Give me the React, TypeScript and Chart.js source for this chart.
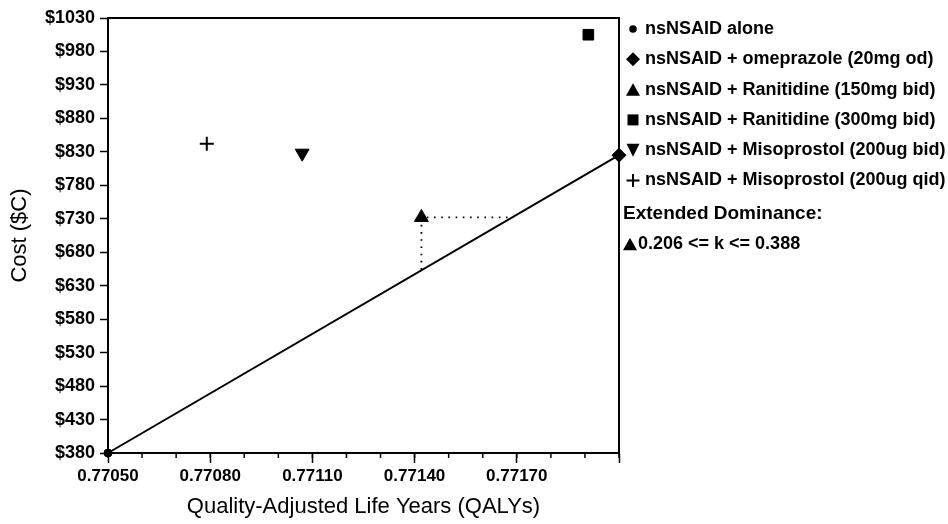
import React, { useEffect, useRef } from 'react';
import { Chart, registerables } from 'chart.js';

Chart.register(...registerables);

// ---- data ----
const treatments = [
  'nsNSAID alone',
  'nsNSAID + omeprazole (20mg od)',
  'nsNSAID + Ranitidine (150mg bid)',
  'nsNSAID + Ranitidine (300mg bid)',
  'nsNSAID + Misoprostol (200ug bid)',
  'nsNSAID + Misoprostol (200ug qid)',
];
const qalys = [0.7705, 0.772, 0.77142, 0.77191, 0.77107, 0.77079];
const costs = [380, 825, 732, 1005, 828, 842];
const frontierIdx = [0, 1];
const dominanceQalys = [0.77142, 0.77142, 0.77168];
const dominanceCosts = [654, 732, 732];
const xTickLabels = ['0.77050', '0.77080', '0.77110', '0.77140', '0.77170', ''];
const xMin = 0.7705;
const xMax = 0.772;
const xMinorStep = 0.0001;
const yMin = 380;
const yMax = 1030;
const extendedTitle = 'Extended Dominance:';
const extendedText = '0.206 <= k <= 0.388';

// ---- styles ----
const FONT = '"Liberation Sans", Arial, sans-serif';
const markers = [
  { style: 'circle', radius: 4, rotation: 0, border: 1 },
  { style: 'rectRot', radius: 7, rotation: 0, border: 1 },
  { style: 'triangle', radius: 8, rotation: 0, border: 1 },
  { style: 'rect', radius: 7.5, rotation: 0, border: 1 },
  { style: 'triangle', radius: 8, rotation: 180, border: 1 },
  { style: 'cross', radius: 7, rotation: 0, border: 2 },
];

function drawMarker(ctx: CanvasRenderingContext2D, kind: number, x: number, y: number) {
  ctx.save();
  ctx.fillStyle = '#000';
  ctx.strokeStyle = '#000';
  ctx.beginPath();
  if (kind === 0) {
    ctx.arc(x, y, 3.8, 0, Math.PI * 2);
    ctx.fill();
  } else if (kind === 1) {
    const r = 7;
    ctx.moveTo(x, y - r);
    ctx.lineTo(x + r, y);
    ctx.lineTo(x, y + r);
    ctx.lineTo(x - r, y);
    ctx.closePath();
    ctx.fill();
  } else if (kind === 2) {
    const s = 14, h = 12.5;
    ctx.moveTo(x, y - h / 2);
    ctx.lineTo(x + s / 2, y + h / 2);
    ctx.lineTo(x - s / 2, y + h / 2);
    ctx.closePath();
    ctx.fill();
  } else if (kind === 3) {
    ctx.rect(x - 5.5, y - 5.5, 11, 11);
    ctx.fill();
  } else if (kind === 4) {
    const s = 13, h = 13;
    ctx.moveTo(x - s / 2, y - h / 2);
    ctx.lineTo(x + s / 2, y - h / 2);
    ctx.lineTo(x, y + h / 2);
    ctx.closePath();
    ctx.fill();
  } else {
    ctx.lineWidth = 2;
    ctx.moveTo(x - 6.5, y);
    ctx.lineTo(x + 6.5, y);
    ctx.moveTo(x, y - 6.5);
    ctx.lineTo(x, y + 6.5);
    ctx.stroke();
  }
  ctx.restore();
}

const framePlugin = {
  id: 'frame',
  afterDraw(chart: any) {
    const { ctx, chartArea } = chart;
    const xs = chart.scales.x;
    ctx.save();
    ctx.strokeStyle = '#000';
    ctx.lineWidth = 2;
    ctx.beginPath();
    ctx.moveTo(chartArea.left, chartArea.top);
    ctx.lineTo(chartArea.right, chartArea.top);
    ctx.lineTo(chartArea.right, chartArea.bottom);
    ctx.stroke();
    // minor ticks on x axis
    const n = Math.round((xMax - xMin) / xMinorStep);
    ctx.lineWidth = 1.5;
    ctx.beginPath();
    for (let i = 0; i <= n; i++) {
      const px = xs.getPixelForValue(xMin + i * xMinorStep);
      ctx.moveTo(px, chartArea.bottom);
      ctx.lineTo(px, chartArea.bottom + 5);
    }
    ctx.stroke();
    ctx.restore();
  },
};

const legendPlugin = {
  id: 'customLegend',
  afterDraw(chart: any) {
    const { ctx } = chart;
    ctx.save();
    ctx.fillStyle = '#000';
    ctx.textBaseline = 'middle';
    ctx.textAlign = 'left';
    const top = 29;
    const gap = 30.3;
    ctx.font = `bold 18px ${FONT}`;
    treatments.forEach((t, i) => {
      const y = top + i * gap;
      drawMarker(ctx, i, 633, y);
      ctx.fillText(t, 645, y);
    });
    ctx.font = `bold 19px ${FONT}`;
    ctx.fillText(extendedTitle, 623, 214);
    drawMarker(ctx, 2, 630, 244);
    ctx.font = `bold 18px ${FONT}`;
    ctx.fillText(extendedText, 638, 244);
    ctx.restore();
  },
};

export default function App() {
  const ref = useRef<HTMLCanvasElement>(null);

  useEffect(() => {
    const canvas = ref.current;
    if (!canvas) return;

    const pointSets = treatments.map((name, i) => ({
      label: name,
      data: [{ x: qalys[i], y: costs[i] }],
      pointStyle: markers[i].style,
      pointRadius: markers[i].radius,
      pointRotation: markers[i].rotation,
      pointBackgroundColor: '#000',
      pointBorderColor: '#000',
      pointBorderWidth: markers[i].border,
      showLine: false,
      clip: false,
      order: 0,
    }));

    const frontier = {
      label: 'frontier',
      data: frontierIdx.map((i) => ({ x: qalys[i], y: costs[i] })),
      showLine: true,
      borderColor: '#000',
      borderWidth: 2,
      pointRadius: 0,
      clip: false,
      order: 2,
    };

    const dominance = {
      label: 'dominance',
      data: dominanceQalys.map((q, i) => ({ x: q, y: dominanceCosts[i] })),
      showLine: true,
      borderColor: '#000',
      borderWidth: 1.8,
      borderDash: [1.6, 5.6],
      pointRadius: 0,
      clip: false,
      order: 3,
    };

    const chart = new Chart(canvas, {
      type: 'scatter',
      data: { datasets: [frontier, dominance, ...pointSets] as any },
      options: {
        responsive: false,
        animation: false,
        devicePixelRatio: 1,
        layout: { padding: { top: 18, right: 329, left: 0, bottom: 0 } },
        plugins: {
          legend: { display: false },
          tooltip: { enabled: false },
        },
        scales: {
          x: {
            type: 'linear',
            min: xMin,
            max: xMax,
            afterFit: (s: any) => {
              s.height = 71;
            },
            ticks: {
              stepSize: 0.0003,
              autoSkip: false,
              maxRotation: 0,
              padding: 3,
              color: '#000',
              font: { family: FONT, size: 17, weight: 'bold' },
              callback: (_v: any, i: number) => xTickLabels[i] ?? '',
            },
            grid: {
              drawOnChartArea: false,
              drawTicks: true,
              tickLength: 10,
              tickWidth: 1.5,
              color: '#000',
            },
            border: { display: true, color: '#000', width: 2 },
            title: {
              display: true,
              text: 'Quality-Adjusted Life Years (QALYs)',
              color: '#000',
              font: { family: FONT, size: 22 },
              padding: { top: 0, bottom: 4 },
            },
          },
          y: {
            type: 'linear',
            min: yMin,
            max: yMax,
            afterFit: (s: any) => {
              s.width = 108;
            },
            ticks: {
              stepSize: 50,
              autoSkip: false,
              padding: 5,
              color: '#000',
              font: { family: FONT, size: 18, weight: 'bold' },
              callback: (v: any) => '$' + v,
            },
            grid: {
              drawOnChartArea: false,
              drawTicks: true,
              tickLength: 8,
              tickWidth: 1.5,
              color: '#000',
            },
            border: { display: true, color: '#000', width: 2 },
            title: {
              display: true,
              text: 'Cost ($C)',
              color: '#000',
              font: { family: FONT, size: 22 },
              padding: { top: 7, bottom: 0 },
            },
          },
        },
      } as any,
      plugins: [framePlugin, legendPlugin],
    });

    return () => chart.destroy();
  }, []);

  return (
    <div style={{ position: 'absolute', left: 0, top: 0, width: 948, height: 524, background: '#fff' }}>
      <canvas ref={ref} width={948} height={524} style={{ display: 'block' }} />
    </div>
  );
}
